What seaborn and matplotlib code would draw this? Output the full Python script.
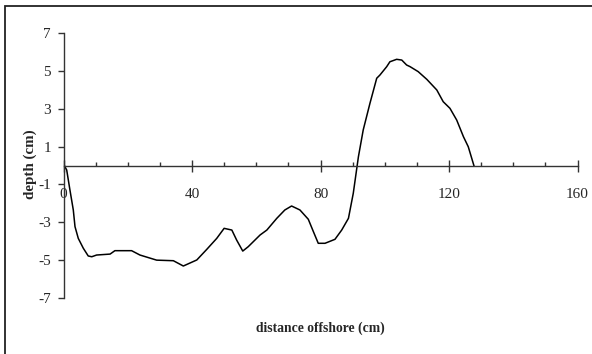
import matplotlib
matplotlib.use("Agg")
import matplotlib.pyplot as plt
import seaborn as sns
import pandas as pd
from matplotlib.ticker import MultipleLocator, FixedLocator
from matplotlib.patches import Rectangle

distance = [0, 0.16, 1.0, 2.0, 3.05, 3.58, 4.6, 6.16, 7.7, 8.8, 10.3, 14.5, 16.0, 21.2,
            23.8, 29.0, 34.2, 37.3, 41.5, 44.6, 47.7, 50.0, 52.4, 53.9, 55.8, 57.5,
            61.2, 63.3, 66.4, 68.9, 71.0, 73.6, 76.2, 77.8, 79.3, 81.4, 84.5, 86.6,
            88.7, 90.2, 91.8, 93.3, 95.4, 97.5, 98.5, 100.6, 101.6, 103.7, 105.3,
            106.8, 107.9, 110.4, 113.1, 116.2, 118.2, 120.3, 122.4, 124.5, 126.0, 127.8]
depth = [0, 0.03, -0.24, -1.29, -2.35, -3.23, -3.85, -4.37, -4.78, -4.82, -4.73, -4.68,
         -4.50, -4.50, -4.73, -5.0, -5.03, -5.31, -4.99, -4.43, -3.85, -3.32, -3.41,
         -3.94, -4.52, -4.29, -3.67, -3.41, -2.79, -2.35, -2.14, -2.35, -2.84, -3.50,
         -4.11, -4.11, -3.90, -3.41, -2.79, -1.47, 0.46, 1.88, 3.29, 4.61, 4.78, 5.22,
         5.48, 5.61, 5.57, 5.31, 5.22, 4.96, 4.55, 3.99, 3.37, 3.02, 2.40, 1.52, 0.99, -0.03]

x_ticks = [0, 40, 80, 120, 160]
y_ticks = [-7, -5, -3, -1, 1, 3, 5, 7]
x_label = "distance offshore (cm)"
y_label = "depth (cm)"

sns.set_theme(style="white")
plt.rcParams['font.family'] = ['Liberation Serif', 'DejaVu Serif']
plt.rcParams['axes.unicode_minus'] = False

fig = plt.figure(figsize=(5.92, 3.54), dpi=100)
ax = fig.add_axes([63.5 / 592, 1 - 298 / 354, (577.5 - 63.5) / 592, (298 - 33) / 354])

df = pd.DataFrame({"distance": distance, "depth": depth})
sns.lineplot(data=df, x="distance", y="depth", ax=ax, color="black", linewidth=1.1,
             sort=False, estimator=None)

ax.set_xlim(0, 160)
ax.set_ylim(-7, 7)
ax.set_facecolor("white")

for s in ["top", "right"]:
    ax.spines[s].set_visible(False)
ax.spines["bottom"].set_position(("data", 0))
ax.spines["left"].set_color("#333333")
ax.spines["bottom"].set_color("#333333")
ax.spines["left"].set_linewidth(1.0)
ax.spines["bottom"].set_linewidth(1.0)

ax.xaxis.set_major_locator(FixedLocator(x_ticks))
ax.xaxis.set_minor_locator(MultipleLocator(10))
ax.yaxis.set_major_locator(FixedLocator(y_ticks))
ax.set_xticklabels([str(v) for v in x_ticks])
ax.set_yticklabels([str(v) for v in y_ticks])

ax.tick_params(axis="x", which="major", direction="inout", length=8, width=1,
               color="#333333", pad=12, labelsize=11, bottom=True)
ax.tick_params(axis="x", which="minor", direction="in", length=3, width=1,
               color="#333333", bottom=True)
ax.tick_params(axis="y", which="major", direction="out", length=4, width=1,
               color="#333333", pad=5, labelsize=11, left=True)

ax.set_xlabel("")
ax.set_ylabel("")
fig.text(320.5 / 592, 1 - 328 / 354, x_label, ha="center", va="center",
         fontsize=9.8, fontweight="bold")
fig.text(30 / 592, 1 - 164 / 354, y_label, ha="center", va="center",
         rotation=90, fontsize=10.8, fontweight="bold")

fig.patches.append(Rectangle((5 / 592, -0.1), 1.2, 1 - 6.5 / 354 + 0.1,
                             transform=fig.transFigure, fill=False,
                             edgecolor="#222222", linewidth=1.3))

fig.savefig("out.png", dpi=100, facecolor="white")
